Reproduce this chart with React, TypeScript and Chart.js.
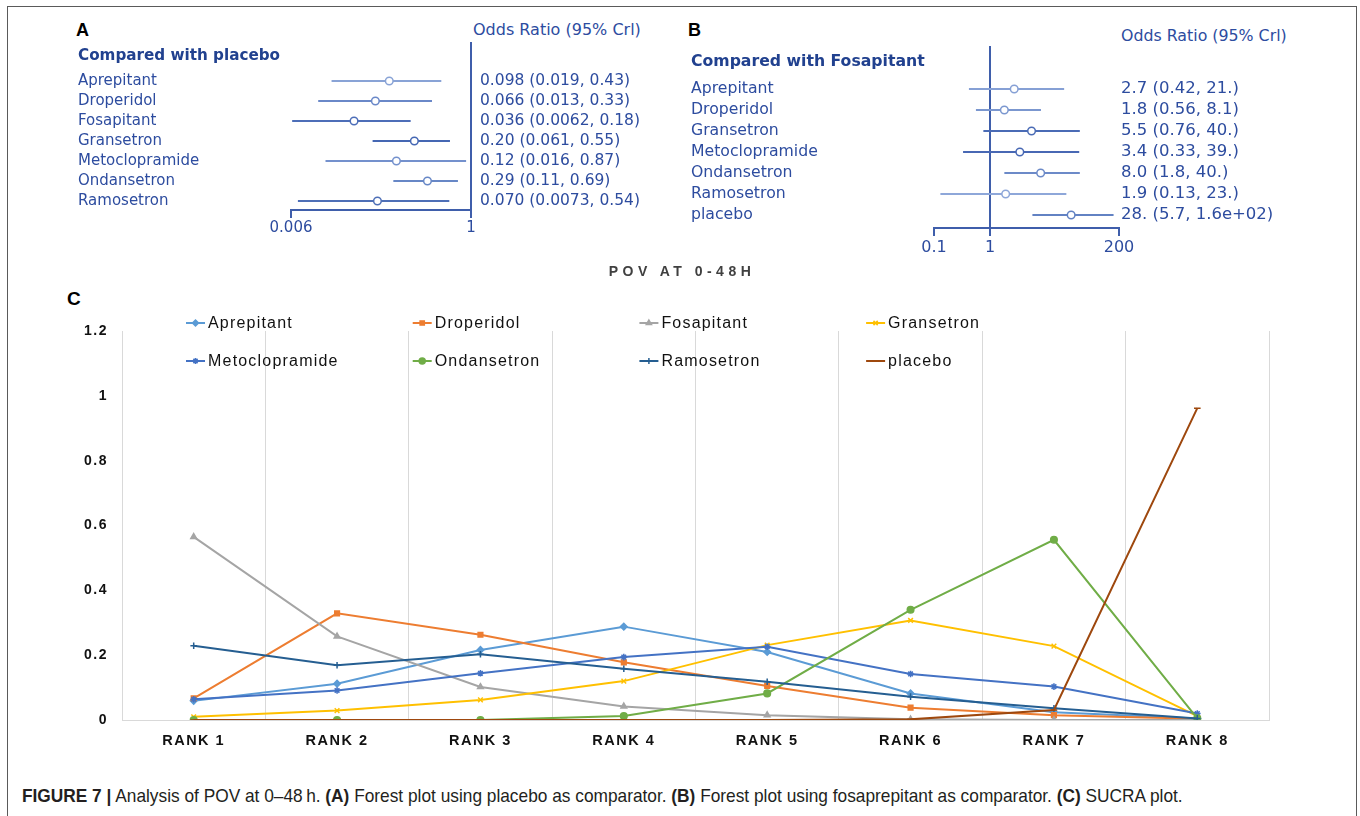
import React, { useEffect, useRef } from 'react';
import { Chart, registerables } from 'chart.js';
import { drawPoint } from 'chart.js/helpers';

Chart.register(...registerables);

// ---------- Panel A: compared with placebo ----------
const placeboDrugs = ['Aprepitant', 'Droperidol', 'Fosapitant', 'Gransetron', 'Metoclopramide', 'Ondansetron', 'Ramosetron'];
const placeboOR = [0.098, 0.066, 0.036, 0.2, 0.12, 0.29, 0.07];
const placeboLow = [0.019, 0.013, 0.0062, 0.061, 0.016, 0.11, 0.0073];
const placeboHigh = [0.43, 0.33, 0.18, 0.55, 0.87, 0.69, 0.54];
const placeboText = [
  '0.098 (0.019, 0.43)',
  '0.066 (0.013, 0.33)',
  '0.036 (0.0062, 0.18)',
  '0.20 (0.061, 0.55)',
  '0.12 (0.016, 0.87)',
  '0.29 (0.11, 0.69)',
  '0.070 (0.0073, 0.54)',
];
const placeboAxisTicks = [0.006, 1];
const placeboAxisLabels = ['0.006', '1'];

// ---------- Panel B: compared with fosapitant ----------
const fosDrugs = ['Aprepitant', 'Droperidol', 'Gransetron', 'Metoclopramide', 'Ondansetron', 'Ramosetron', 'placebo'];
const fosOR = [2.7, 1.8, 5.5, 3.4, 8.0, 1.9, 28];
const fosLow = [0.42, 0.56, 0.76, 0.33, 1.8, 0.13, 5.7];
const fosHigh = [21, 8.1, 40, 39, 40, 23, 160];
const fosText = [
  '2.7 (0.42, 21.)',
  '1.8 (0.56, 8.1)',
  '5.5 (0.76, 40.)',
  '3.4 (0.33, 39.)',
  '8.0 (1.8, 40.)',
  '1.9 (0.13, 23.)',
  '28. (5.7, 1.6e+02)',
];
const fosAxisTicks = [0.1, 1, 200];
const fosAxisLabels = ['0.1', '1', '200'];

// ---------- Panel C: SUCRA ----------
const ranks = ['RANK 1', 'RANK 2', 'RANK 3', 'RANK 4', 'RANK 5', 'RANK 6', 'RANK 7', 'RANK 8'];
const seriesNames = ['Aprepitant', 'Droperidol', 'Fosapitant', 'Gransetron', 'Metoclopramide', 'Ondansetron', 'Ramosetron', 'placebo'];
const aprepitant = [0.059, 0.112, 0.216, 0.288, 0.21, 0.082, 0.024, 0.005];
const droperidol = [0.067, 0.329, 0.263, 0.178, 0.105, 0.038, 0.015, 0.004];
const fosapitant = [0.565, 0.258, 0.102, 0.042, 0.015, 0.002, 0.0, 0.0];
const gransetron = [0.01, 0.029, 0.062, 0.12, 0.231, 0.307, 0.228, 0.012];
const metoclopramide = [0.064, 0.091, 0.144, 0.194, 0.226, 0.142, 0.103, 0.02];
const ondansetron = [0.0, 0.0, 0.0, 0.012, 0.082, 0.34, 0.556, 0.005];
const ramosetron = [0.229, 0.169, 0.203, 0.158, 0.118, 0.072, 0.036, 0.005];
const placebo = [0.0, 0.0, 0.0, 0.0, 0.0, 0.002, 0.031, 0.962];
const seriesValues = [aprepitant, droperidol, fosapitant, gransetron, metoclopramide, ondansetron, ramosetron, placebo];
const yTickValues = [0, 0.2, 0.4, 0.6, 0.8, 1, 1.2];
const yTickLabels = ['0', '0.2', '0.4', '0.6', '0.8', '1', '1.2'];

// ---------- styles ----------
const seriesColors = ['#5B9BD5', '#ED7D31', '#A5A5A5', '#FFC000', '#4472C4', '#70AD47', '#255E91', '#9E480E'];
const seriesMarkers = ['rectRot', 'rect', 'triangle', 'crossRot', 'star', 'circle', 'cross', 'line'];
const placeboLineColors = ['#89a3d6', '#6a88c8', '#4d6eb8', '#4567b3', '#7491cd', '#6787c6', '#4e6fb7'];
const fosLineColors = ['#86a0d5', '#7b97cf', '#4a6bb5', '#4868b4', '#6c8ac8', '#8ea7d9', '#6282c3'];

const FOREST_FONT = '"DejaVu Sans", sans-serif';
const FOREST_TEXT = '#2d4c9f';
const FOREST_HEAD = '#21418f';
const FOREST_LINE = '#3f5eab';
const SANS = '"Liberation Sans", Arial, sans-serif';

function forestConfig(p: any): any {
  const lineSets = p.drugs.map((d: string, i: number) => ({
    label: d,
    data: [
      { x: p.low[i], y: i },
      { x: p.high[i], y: i },
    ],
    showLine: true,
    borderColor: p.colors[i],
    borderWidth: 2,
    pointRadius: 0,
    order: 1,
  }));
  const est = {
    label: 'OR',
    data: p.or.map((v: number, i: number) => ({ x: v, y: i })),
    showLine: false,
    pointRadius: 3.8,
    pointBackgroundColor: '#ffffff',
    pointBorderColor: p.colors,
    pointBorderWidth: 1.5,
    order: 0,
  };
  const rowTicks = p.drugs.map((_: string, i: number) => ({ value: i }));
  return {
    type: 'scatter',
    data: { datasets: [...lineSets, est] },
    options: {
      responsive: false,
      animation: false,
      events: [],
      layout: { padding: { top: p.padTop, left: 0, right: 0, bottom: 0 } },
      plugins: { legend: { display: false }, tooltip: { enabled: false }, title: { display: false } },
      scales: {
        x: {
          type: 'logarithmic',
          min: p.min,
          max: p.max,
          afterBuildTicks: (s: any) => {
            s.ticks = p.tickVals.map((v: number) => ({ value: v }));
          },
          afterFit: (s: any) => {
            s.height = p.xHeight;
          },
          ticks: {
            callback: (v: number, i: number) => p.tickLabels[i],
            font: { family: FOREST_FONT, size: p.axisSize },
            color: FOREST_TEXT,
            padding: p.xLabelPad,
            maxRotation: 0,
            autoSkip: false,
          },
          grid: {
            color: (c: any) => (c.tick && c.tick.value === 1 ? FOREST_LINE : 'rgba(0,0,0,0)'),
            tickColor: FOREST_LINE,
            lineWidth: 2,
            tickLength: 8,
            drawOnChartArea: true,
          },
          border: { display: true, color: FOREST_LINE, width: 2 },
        },
        y: {
          type: 'linear',
          position: 'left',
          reverse: true,
          min: p.yMin,
          max: p.yMax,
          afterBuildTicks: (s: any) => {
            s.ticks = [{ value: p.headerPos }, ...rowTicks];
          },
          afterFit: (s: any) => {
            s.width = p.leftWidth;
          },
          ticks: {
            callback: (v: number, i: number) => (i === 0 ? p.header : p.drugs[i - 1]),
            font: (c: any) =>
              c.index === 0
                ? { family: FOREST_FONT, size: p.headerSize, weight: 'bold' }
                : { family: FOREST_FONT, size: p.fontSize },
            color: (c: any) => (c.index === 0 ? FOREST_HEAD : FOREST_TEXT),
            crossAlign: 'far',
            padding: 0,
            autoSkip: false,
          },
          grid: { display: false, drawTicks: false },
          border: { display: false },
        },
        y2: {
          type: 'linear',
          position: 'right',
          reverse: true,
          min: p.yMin,
          max: p.yMax,
          afterBuildTicks: (s: any) => {
            s.ticks = rowTicks.map((t: any) => ({ ...t }));
          },
          afterFit: (s: any) => {
            s.width = p.rightWidth;
          },
          ticks: {
            callback: (v: number, i: number) => p.text[i],
            font: { family: FOREST_FONT, size: p.valueSize },
            color: FOREST_TEXT,
            crossAlign: 'near',
            padding: p.textPad,
            autoSkip: false,
          },
          grid: { display: false, drawTicks: false },
          border: { display: false },
        },
      },
    },
  };
}

function ForestPlot(props: any) {
  const ref = useRef<HTMLCanvasElement>(null);
  useEffect(() => {
    const chart = new Chart(ref.current as HTMLCanvasElement, forestConfig(props));
    return () => chart.destroy();
  }, []);
  return (
    <canvas
      ref={ref}
      width={props.width}
      height={props.height}
      style={{ position: 'absolute', left: props.left, top: props.top, width: props.width, height: props.height }}
    />
  );
}

const spacingPlugin = {
  id: 'letterSpacing',
  beforeDraw(chart: any) {
    chart.ctx.letterSpacing = '1.5px';
  },
};

const gridLegendPlugin = {
  id: 'gridLegend',
  afterDraw(chart: any) {
    const ctx = chart.ctx;
    const area = chart.chartArea;
    chart.data.datasets.forEach((ds: any, i: number) => {
      const col = i % 4;
      const row = Math.floor(i / 4);
      const x0 = area.left + 64 + col * 226.7;
      const y = area.top - 8 + row * 38;
      ctx.save();
      ctx.strokeStyle = ds.borderColor;
      ctx.fillStyle = ds.borderColor;
      ctx.lineWidth = 2;
      ctx.beginPath();
      ctx.moveTo(x0, y);
      ctx.lineTo(x0 + 19, y);
      ctx.stroke();
      ctx.lineWidth = ds.pointBorderWidth;
      drawPoint(ctx, { pointStyle: ds.pointStyle, rotation: 0, radius: 3, borderWidth: ds.pointBorderWidth }, x0 + 9.5, y);
      ctx.letterSpacing = '1.2px';
      ctx.fillStyle = '#111111';
      ctx.font = '16px ' + SANS;
      ctx.textBaseline = 'middle';
      ctx.textAlign = 'left';
      ctx.fillText(ds.label, x0 + 22, y + 1);
      ctx.restore();
    });
  },
};

function SucraChart() {
  const ref = useRef<HTMLCanvasElement>(null);
  useEffect(() => {
    const datasets = seriesNames.map((name, i) => ({
      label: name,
      data: seriesValues[i],
      borderColor: seriesColors[i],
      backgroundColor: seriesColors[i],
      pointBackgroundColor: seriesColors[i],
      pointBorderColor: seriesColors[i],
      pointStyle: seriesMarkers[i],
      pointRadius: 3.3,
      pointBorderWidth: 1.5,
      borderWidth: 2,
      tension: 0,
      order: -i,
    }));
    const chart = new Chart(ref.current as HTMLCanvasElement, {
      type: 'line',
      data: { labels: ranks, datasets },
      plugins: [spacingPlugin, gridLegendPlugin],
      options: {
        responsive: false,
        animation: false,
        events: [],
        layout: { padding: { top: 76, right: 31, left: 0, bottom: 0 } },
        plugins: { legend: { display: false }, tooltip: { enabled: false }, title: { display: false } },
        scales: {
          x: {
            offset: true,
            grid: {
              offset: true,
              color: (c: any) => (c.index === ranks.length ? 'rgba(0,0,0,0)' : '#d9d9d9'),
              lineWidth: 1,
              drawTicks: false,
            },
            border: { display: true, color: '#d9d9d9', width: 1 },
            ticks: {
              font: { family: SANS, size: 14.5, weight: 'bold' },
              color: '#111111',
              padding: 12,
              maxRotation: 0,
              autoSkip: false,
            },
            afterFit: (s: any) => {
              s.height = 40;
            },
          },
          y: {
            min: 0,
            max: 1.2,
            afterBuildTicks: (s: any) => {
              s.ticks = yTickValues.map((v) => ({ value: v }));
            },
            afterFit: (s: any) => {
              s.width = 62;
            },
            ticks: {
              callback: (v: any, i: number) => yTickLabels[i],
              font: { family: SANS, size: 14, weight: 'bold' },
              color: '#111111',
              padding: 14,
            },
            grid: { display: false, drawTicks: false },
            border: { display: false },
          },
        },
      } as any,
    } as any);
    return () => chart.destroy();
  }, []);
  return (
    <canvas
      ref={ref}
      width={1240}
      height={505}
      style={{ position: 'absolute', left: 60, top: 255, width: 1240, height: 505 }}
    />
  );
}

function Txt(props: any) {
  const size = props.size || 14;
  const lh = Math.round(size * 1.3);
  return (
    <div
      style={{
        position: 'absolute',
        left: props.x,
        top: props.y - lh / 2,
        height: lh,
        lineHeight: lh + 'px',
        fontSize: size,
        fontFamily: props.family || SANS,
        fontWeight: props.bold ? 'bold' : 'normal',
        color: props.color || '#000',
        whiteSpace: 'nowrap',
        letterSpacing: props.spacing || 'normal',
        ...(props.style || {}),
      }}
    >
      {props.children}
    </div>
  );
}

export default function App() {
  return (
    <div
      style={{
        position: 'fixed',
        left: 0,
        top: 0,
        width: 1360,
        height: 816,
        background: '#ffffff',
        overflow: 'hidden',
        fontFamily: SANS,
      }}
    >
      <div
        style={{
          position: 'absolute',
          left: 7,
          top: 6,
          width: 1350,
          height: 830,
          border: '1.5px solid #5a5a5a',
          borderBottom: 'none',
          boxSizing: 'border-box',
        }}
      />

      <Txt x={76} y={30} size={18} bold>A</Txt>
      <Txt x={688} y={30} size={18} bold>B</Txt>
      <Txt x={473} y={29} size={16} family={FOREST_FONT} color={FOREST_TEXT}>Odds Ratio (95% Crl)</Txt>
      <Txt x={1121} y={35} size={15.8} family={FOREST_FONT} color={FOREST_TEXT}>Odds Ratio (95% Crl)</Txt>

      <ForestPlot
        left={78}
        top={0}
        width={600}
        height={250}
        drugs={placeboDrugs}
        or={placeboOR}
        low={placeboLow}
        high={placeboHigh}
        text={placeboText}
        header="Compared with placebo"
        tickVals={placeboAxisTicks}
        tickLabels={placeboAxisLabels}
        colors={placeboLineColors}
        min={0.006}
        max={1}
        yMin={-1.95}
        yMax={6.45}
        headerPos={-1.25}
        padTop={42}
        xHeight={40}
        leftWidth={213}
        rightWidth={207}
        fontSize={15}
        headerSize={15.2}
        valueSize={15.5}
        axisSize={15}
        textPad={9}
        xLabelPad={1.5}
      />
      <ForestPlot
        left={691}
        top={0}
        width={649}
        height={270}
        drugs={fosDrugs}
        or={fosOR}
        low={fosLow}
        high={fosHigh}
        text={fosText}
        header="Compared with Fosapitant"
        tickVals={fosAxisTicks}
        tickLabels={fosAxisLabels}
        colors={fosLineColors}
        min={0.1}
        max={200}
        yMin={-2.05}
        yMax={6.62}
        headerPos={-1.29}
        padTop={46}
        xHeight={42}
        leftWidth={243}
        rightWidth={221}
        fontSize={15.7}
        headerSize={15.7}
        valueSize={16.5}
        axisSize={16}
        textPad={2}
        xLabelPad={2}
      />

      <Txt x={0} y={271} size={14} bold color="#404040" spacing="4.5px" style={{ width: 1364, textAlign: 'center' }}>
        POV AT 0-48H
      </Txt>
      <Txt x={67} y={298} size={19} bold>C</Txt>
      <SucraChart />

      <Txt
        x={22}
        y={795}
        size={19}
        family={SANS}
        color="#231f20"
        style={{ transform: 'scaleX(0.91)', transformOrigin: 'left center' }}
      >
        <b>FIGURE 7 |</b> Analysis of POV at 0–48{'\u2009'}h. <b>(A)</b> Forest plot using placebo as comparator.{' '}
        <b>(B)</b> Forest plot using fosaprepitant as comparator. <b>(C)</b> SUCRA plot.
      </Txt>
    </div>
  );
}
